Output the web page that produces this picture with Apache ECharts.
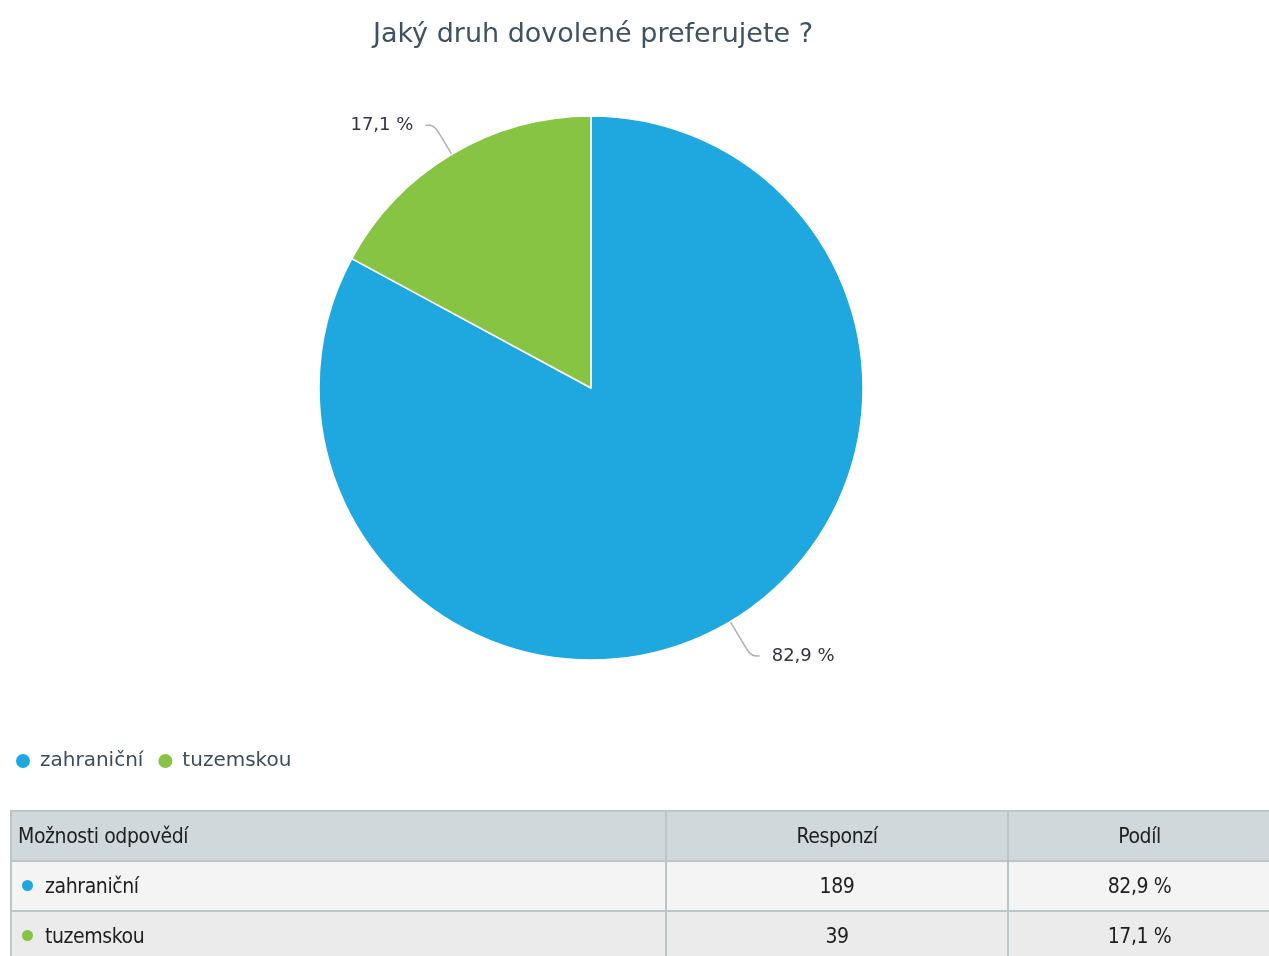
<!DOCTYPE html>
<html>
<head>
<meta charset="utf-8">
<script src="https://cdn.jsdelivr.net/npm/echarts@6/dist/echarts.min.js"></script>
<style>
	html, body { margin: 0; padding: 0; background: #fff; }
	#chart { position: absolute; left: 0; top: 0; width: 1269px; height: 956px; }
	#tbl {
		position: absolute; left: 10px; top: 810px; width: 1262px;
		border-collapse: collapse; table-layout: fixed;
		font-family: "DejaVu Sans Condensed", "Liberation Sans Narrow", sans-serif;
		font-stretch: condensed;
		font-size: 21px; letter-spacing: -0.4px; color: #1e1e1e;
	}
	#tbl td, #tbl th { border: 2px solid #bcc6c9; height: 48px; padding: 0 6px; font-weight: normal; }
	#tbl th { background: #d0d8dc; }
	#tbl tr.r1 td { background: #f4f4f4; }
	#tbl tr.r2 td { background: #ebebeb; }
	#tbl .c { text-align: center; }
	#tbl .l { text-align: left; }
	.dot { display: inline-block; width: 11px; height: 11px; border-radius: 50%; margin: 0 12px 3px 4px; vertical-align: middle; }
</style>
</head>
<body>
<div id="chart"></div>
<table id="tbl">
	<colgroup><col style="width:655px"><col style="width:342px"><col></colgroup>
	<thead></thead>
	<tbody></tbody>
</table>
<script>
	// data
	var title = 'Jaký druh dovolené preferujete ?';
	var categories = ['zahraniční', 'tuzemskou'];
	var responses = [189, 39];
	var colors = ['#1ea8df', '#88c444'];
	var headers = ['Možnosti odpovědí', 'Responzí', 'Podíl'];

	function pct(v) {
		return v.toFixed(1).replace('.', ',') + ' %';
	}

	var single = echarts.init(document.getElementById('chart'));

	var option = {
		// 标题
		title: {
			text: title,
			left: 588,
			textAlign: 'center',
			top: 16,
			textStyle: {
				color: '#3f5261',
				fontFamily: 'DejaVu Sans',
				fontWeight: 'normal',
				fontSize: 27
			}
		},
		color: colors,
		// 图例
		legend: {
			left: 9,
			top: 746,
			icon: 'circle',
			itemWidth: 16,
			itemHeight: 16,
			itemGap: 13,
			data: categories,
			textStyle: {
				color: '#3c4c5a',
				fontFamily: 'DejaVu Sans',
				fontSize: 20,
				padding: [1, 0, 0, 4]
			}
		},
		series: [
			{
				type: 'pie',
				center: [591, 388],
				radius: 272,
				startAngle: 90,
				clockwise: true,
				animation: false,
				itemStyle: {
					borderColor: '#fff',
					borderWidth: 1.5
				},
				label: {
					color: '#333344',
					fontFamily: 'DejaVu Sans',
					fontSize: 18,
					distanceToLabelLine: 12,
					formatter: function (p) { return pct(p.percent); }
				},
				labelLine: {
					length: 40,
					length2: 9,
					smooth: 0.4,
					lineStyle: { color: '#b0b0b0', width: 1.5 }
				},
				data: categories.map(function (c, i) {
					var d = { name: c, value: responses[i] };
					if (i === 1) {
						d.labelLine = { length: 34 };
					}
					return d;
				})
			}
		]
	};

	single.setOption(option);

	// tabulka
	var total = responses.reduce(function (a, b) { return a + b; }, 0);
	var thead = document.querySelector('#tbl thead');
	thead.innerHTML = '<tr><th class="l">' + headers[0] + '</th><th class="c">' + headers[1] +
		'</th><th class="c">' + headers[2] + '</th></tr>';
	var tbody = document.querySelector('#tbl tbody');
	categories.forEach(function (c, i) {
		var tr = document.createElement('tr');
		tr.className = 'r' + (i + 1);
		tr.innerHTML = '<td class="l"><span class="dot" style="background:' + colors[i] + '"></span>' + c +
			'</td><td class="c">' + responses[i] + '</td><td class="c">' +
			pct(responses[i] / total * 100) + '</td>';
		tbody.appendChild(tr);
	});
</script>
</body>
</html>
